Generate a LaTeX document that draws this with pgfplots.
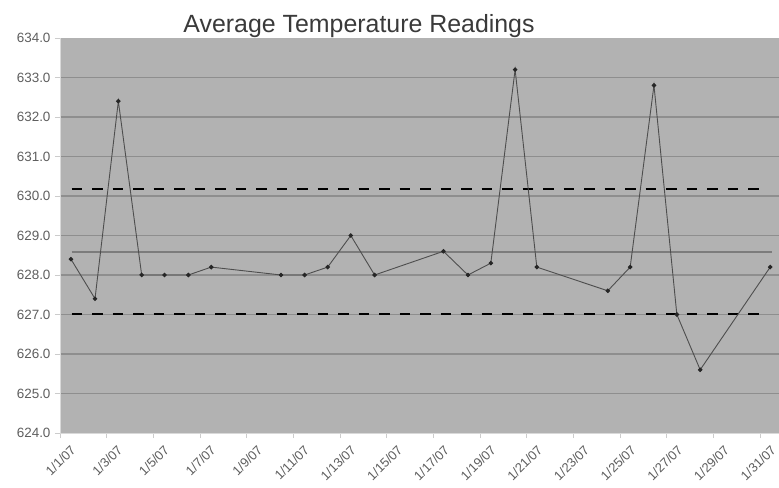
\documentclass[border=0pt]{standalone}
\usepackage{fontspec}
\setmainfont{Liberation Sans}
\usepackage{pgfplots}
\pgfplotsset{compat=1.18}
\definecolor{plotbg}{HTML}{B2B2B2}
\definecolor{gridc}{HTML}{8E8E8E}
\definecolor{linec}{HTML}{4E4E4E}
\definecolor{meanc}{HTML}{7C7C7C}
\definecolor{labc}{HTML}{5E5E5E}
\definecolor{titlec}{HTML}{3A3A3A}
\begin{document}
\begin{tikzpicture}
\begin{axis}[
  at={(0,0)}, anchor=south west,
  scale only axis,
  width=720bp, height=395bp,
  xmin=0, xmax=30.85,
  ymin=624, ymax=634,
  axis background/.style={fill=plotbg},
  axis line style={draw=white!85!black, line width=0.8bp},
  axis x line*=bottom, axis y line*=left,
  ytick={625,626,...,633},
  extra y ticks={624,634},
  extra y tick style={grid=none},
  xtick={0,2,...,30},
  xticklabels={1/1/07,1/3/07,1/5/07,1/7/07,1/9/07,1/11/07,1/13/07,1/15/07,1/17/07,1/19/07,1/21/07,1/23/07,1/25/07,1/27/07,1/29/07,1/31/07},
  tick align=outside,
  major tick length=5bp,
  tick style={draw=white!80!black, line width=0.8bp},
  ymajorgrids,
  grid style={draw=gridc, line width=1.3bp},
  yticklabel style={font=\fontsize{13.5}{15}\selectfont, text=labc, xshift=-1bp},
  xticklabel style={font=\fontsize{13}{15}\selectfont, text=labc, rotate=45, anchor=north east, xshift=6bp, yshift=-8bp},
  /pgf/number format/.cd, fixed, fixed zerofill, precision=1, 1000 sep={}, assume math mode=true,
]
\addplot[meanc, line width=2bp, forget plot] coordinates {(0.5,628.58) (30.5,628.58)};
\addplot[black, line width=2bp, dash pattern=on 10.5bp off 10bp, forget plot] coordinates {(0.5,630.17) (30.2,630.17)};
\addplot[black, line width=2bp, dash pattern=on 10.5bp off 10bp, forget plot] coordinates {(0.5,627.0) (30.2,627.0)};
\addplot[linec, line width=0.9bp, mark=*, mark size=1.8bp, mark options={fill=black!85, draw=black!85}] coordinates {
(0.47,628.4) (1.5,627.4) (2.5,632.4) (3.5,628.0) (4.48,628.0) (5.5,628.0) (6.48,628.2)
(9.47,628.0) (10.48,628.0) (11.47,628.2) (12.46,629.0) (13.48,628.0)
(16.43,628.6) (17.48,628.0) (18.46,628.3) (19.5,633.2) (20.43,628.2)
(23.47,627.6) (24.43,628.2) (25.45,632.8) (26.43,627.0) (27.43,625.6) (30.43,628.2)};
\end{axis}
\node[anchor=base, text=titlec, font=\fontsize{25}{30}\selectfont] at (299bp,400bp) {Average Temperature Readings};
\pgfresetboundingbox
\path[use as bounding box] (-60bp,-55bp) rectangle (719bp,433bp);
\end{tikzpicture}
\end{document}
